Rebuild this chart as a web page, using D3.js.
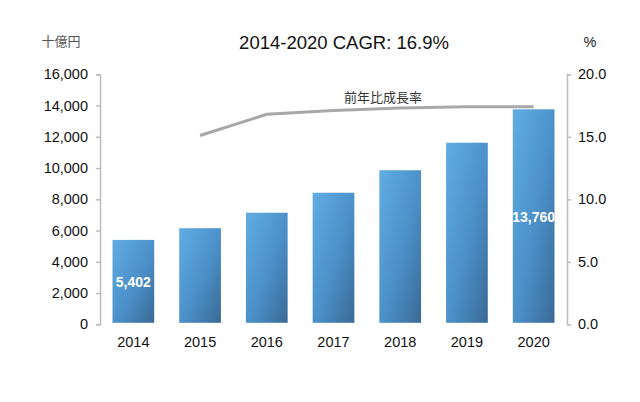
<!DOCTYPE html>
<html><head><meta charset="utf-8">
<script src="https://cdn.jsdelivr.net/npm/d3@7"></script>
<style>body{margin:0;background:#fff}svg{display:block;font-family:"Liberation Sans",Arial,sans-serif}</style>
</head><body><svg id="c" width="640" height="402"></svg>
<script>
const years = ["2014","2015","2016","2017","2018","2019","2020"];
const marketValues = [5402, 6150, 7140, 8420, 9860, 11620, 13760];
const growthYears = ["2015","2016","2017","2018","2019","2020"];
const growthRates = [15.1, 16.8, 17.1, 17.3, 17.4, 17.4];
const leftTicks = [0,2000,4000,6000,8000,10000,12000,14000,16000];
const rightTicks = [0,5,10,15,20];
const labeledBars = {"2014": "5,402", "2020": "13,760"};
const titleText = "2014-2020 CAGR: 16.9%";
const leftUnit = "十億円", rightUnit = "%", lineLabel = "前年比成長率";

const svg = d3.select("#c");
const m = {l:100, r:567, t:74.3, b:324.3};
const x = d3.scaleBand().domain(years).range([m.l, m.r]).paddingInner(0.375).paddingOuter(0.1875);
const y = d3.scaleLinear().domain([0,16000]).range([m.b, m.t]);
const y2 = d3.scaleLinear().domain([0,20]).range([m.b, m.t]);

const defs = svg.append("defs");
const g = defs.append("linearGradient").attr("id","bg").attr("x1","0").attr("y1","0").attr("x2","1").attr("y2","1");
g.append("stop").attr("offset","0").attr("stop-color","#60ade4");
g.append("stop").attr("offset","0.55").attr("stop-color","#4b8fc8");
g.append("stop").attr("offset","1").attr("stop-color","#3a6a94");

const fontTick = 14.5;
const la = svg.append("g").attr("transform",`translate(${m.l},0)`).call(d3.axisLeft(y).tickValues(leftTicks).tickFormat(d3.format(",")).tickSizeOuter(0).tickSize(4).tickPadding(8));
const ra = svg.append("g").attr("transform",`translate(${m.r},0)`).call(d3.axisRight(y2).tickValues(rightTicks).tickFormat(d3.format(".1f")).tickSizeOuter(0).tickSize(4).tickPadding(7));
[la,ra].forEach(a=>{
  a.select(".domain").attr("stroke","#bdbdbd").attr("stroke-width",1.5);
  a.selectAll(".tick line").attr("stroke","#bdbdbd").attr("stroke-width",1.5);
  a.selectAll(".tick text").attr("fill","#111").style("font-size",fontTick+"px").style("font-family","Liberation Sans, Arial, sans-serif");
});

svg.append("g").selectAll("rect").data(years).join("rect")
  .attr("x", d=>x(d)).attr("width", x.bandwidth())
  .attr("y", (d,i)=>y(marketValues[i])).attr("height",(d,i)=>y(0)-1.5-y(marketValues[i]))
  .attr("fill","url(#bg)");

svg.append("g").selectAll("text").data(years.filter(d=>labeledBars[d])).join("text")
  .attr("x", d=>x(d)+x.bandwidth()/2)
  .attr("y", d=>{const v=marketValues[years.indexOf(d)]; return y(v/2)+5;})
  .attr("text-anchor","middle").attr("fill","#fff").attr("font-weight","bold").style("font-size","14px")
  .text(d=>labeledBars[d]);

svg.append("g").selectAll("text").data(years).join("text")
  .attr("x", d=>x(d)+x.bandwidth()/2).attr("y",347)
  .attr("text-anchor","middle").attr("fill","#111").style("font-size",fontTick+"px").text(d=>d);

const line = d3.line().x(d=>x(d[0])+x.bandwidth()/2).y(d=>y2(d[1]));
svg.append("path").datum(growthYears.map((d,i)=>[d,growthRates[i]]))
  .attr("d",line).attr("fill","none").attr("stroke","#a8a8a8").attr("stroke-width",3);

svg.append("text").attr("x",383).attr("y",102).attr("text-anchor","middle").attr("fill","#333")
  .style("font-size","13px").style("font-family","Noto Sans CJK JP").text(lineLabel);

svg.append("text").attr("x",344).attr("y",49).attr("text-anchor","middle").attr("fill","#111")
  .style("font-size","18.5px").text(titleText);
svg.append("text").attr("x",61).attr("y",46).attr("text-anchor","middle").attr("fill","#555")
  .style("font-size","13px").style("font-family","Noto Sans CJK JP").text(leftUnit);
svg.append("text").attr("x",590).attr("y",47).attr("text-anchor","middle").attr("fill","#222")
  .style("font-size","14.5px").text(rightUnit);
</script></body></html>
